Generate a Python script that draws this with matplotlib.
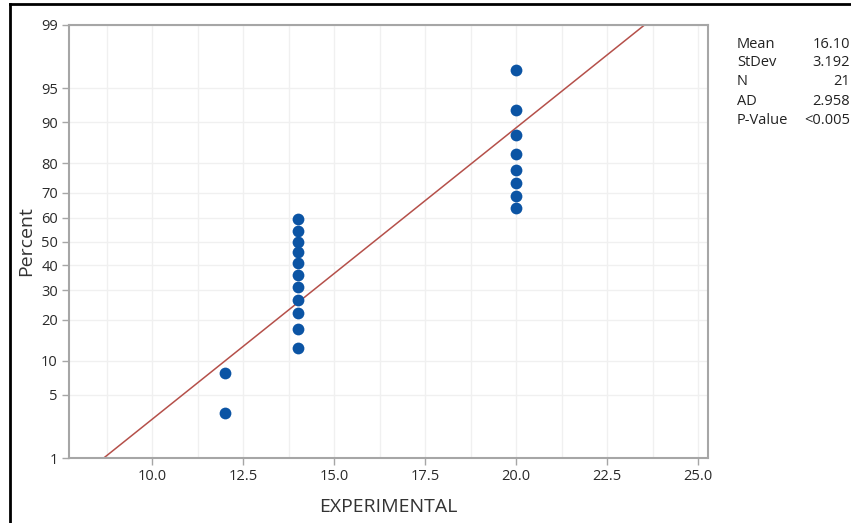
import numpy as np
import matplotlib
matplotlib.use('Agg')
import matplotlib.pyplot as plt
from matplotlib.lines import Line2D
from statistics import NormalDist

plt.rcParams['font.family'] = ['Open Sans', 'DejaVu Sans']

# --- data ---
experimental = [12, 12,
                14, 14, 14, 14, 14, 14, 14, 14, 14, 14, 14,
                20, 20, 20, 20, 20, 20, 20, 20]
percent = [3.3, 7.9,
           12.6, 17.3, 22.0, 26.6, 31.3, 36.0, 40.7, 45.3, 50.0, 54.7, 59.4,
           64.0, 68.7, 73.4, 78.0, 82.7, 87.4, 92.1, 96.7]
fit_mean = 16.10
fit_std = 3.192
y_ticks = [1, 5, 10, 20, 30, 40, 50, 60, 70, 80, 90, 95, 99]
x_ticks = [10.0, 12.5, 15.0, 17.5, 20.0, 22.5, 25.0]
stat_names = ['Mean', 'StDev', 'N', 'AD', 'P-Value']
stat_values = ['16.10', '3.192', '21', '2.958', '<0.005']

nd = NormalDist()
_ppf = np.vectorize(lambda p: nd.inv_cdf(min(max(p / 100.0, 1e-9), 1 - 1e-9)), otypes=[float])
_cdf = np.vectorize(lambda z: nd.cdf(z) * 100.0, otypes=[float])


def prob_fwd(p):
    return _ppf(np.asarray(p, dtype=float))


def prob_inv(z):
    return _cdf(np.asarray(z, dtype=float))


fig = plt.figure(figsize=(8.51, 5.23), dpi=100)
ax = fig.add_axes([69 / 851, 65 / 523, 639 / 851, 433 / 523])
ax.set_yscale('function', functions=(prob_fwd, prob_inv))

# fitted normal line
line_p = np.array([0.5, 99.5])
line_x = fit_mean + fit_std * prob_fwd(line_p)
ax.plot(line_x, line_p, color='#b5504a', lw=1.1, zorder=2)

ax.scatter(experimental, percent, s=72, color='#0b54a4', zorder=3, linewidths=0)

ax.set_xlim(7.72, 25.27)
ax.set_ylim(1, 99)
ax.set_xticks(x_ticks)
ax.set_xticklabels(['%.1f' % v for v in x_ticks])
ax.set_yticks(y_ticks)
ax.set_yticklabels([str(v) for v in y_ticks])
ax.set_yticks([], minor=True)
ax.set_xticks(np.arange(8.75, 25.1, 1.25), minor=True)
ax.tick_params(which='minor', length=0)

ax.grid(True, which='major', axis='y', color='#f0f0f0', lw=1)
ax.grid(True, which='both', axis='x', color='#f0f0f0', lw=1)
ax.set_axisbelow(True)

for s in ax.spines.values():
    s.set_color('#a6a6a6')
    s.set_linewidth(1.5)
ax.tick_params(which='major', direction='out', length=5, width=1, color='#a6a6a6',
               labelsize=10.5, labelcolor='#2a2a2a', pad=3)

ax.set_xlabel('EXPERIMENTAL', fontsize=14, color='#333333', labelpad=10)
ax.set_ylabel('Percent', fontsize=14, color='#333333', labelpad=4)

# stats box on the right
for i, (nm, val) in enumerate(zip(stat_names, stat_values)):
    y = 1 - (44 + i * 19) / 523
    fig.text(737 / 851, y, nm, fontsize=10.5, color='#222222', ha='left', va='center')
    fig.text(850 / 851, y, val, fontsize=10.5, color='#222222', ha='right', va='center')

# outer frame (left and top edges)
fig.add_artist(Line2D([10 / 851, 10 / 851], [0, 1 - 4 / 523], color='black', lw=2))
fig.add_artist(Line2D([10 / 851, 1], [1 - 4 / 523, 1 - 4 / 523], color='black', lw=2))

fig.savefig('out.png', dpi=100)
